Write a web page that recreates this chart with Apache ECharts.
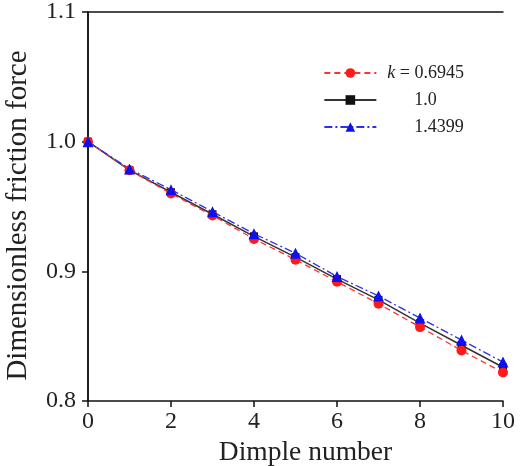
<!DOCTYPE html>
<html>
<head>
<meta charset="utf-8">
<script src="https://cdn.jsdelivr.net/npm/echarts@6/dist/echarts.min.js"></script>
<style>
  html, body { margin: 0; padding: 0; background: #fff; }
  #main { width: 521px; height: 466px; }
</style>
</head>
<body>
<div id="main"></div>
<script>
// dimple number 0..10
var dimples = [0, 1, 2, 3, 4, 5, 6, 7, 8, 9, 10];
var friction_k06945 = [1.0, 0.978, 0.960, 0.943, 0.925, 0.909, 0.892, 0.875, 0.857, 0.839, 0.822];
var friction_k10 = [1.0, 0.978, 0.961, 0.944, 0.927, 0.911, 0.894, 0.878, 0.860, 0.843, 0.826];
var friction_k14399 = [1.0, 0.979, 0.963, 0.946, 0.929, 0.914, 0.896, 0.881, 0.864, 0.847, 0.830];
var yTicks = [0.8, 0.9, 1.0, 1.1];

function pairs(ys) {
	var out = [];
	for (var i = 0; i < dimples.length; i++) {
		out.push([dimples[i], ys[i]]);
	}
	return out;
}

var serif = '"Liberation Serif", "DejaVu Serif", serif';
var myChart = echarts.init(document.getElementById('main'));

var option = {
	backgroundColor: '#fff',
	animation: false,
	textStyle: { fontFamily: serif },
	grid: { left: 88, right: 18, top: 12, bottom: 65, containLabel: false, outerBoundsMode: 'none' },
	legend: {
		right: 52,
		top: 59,
		orient: 'vertical',
		itemWidth: 52,
		itemHeight: 12,
		itemGap: 9,
		data: ['k = 0.6945', '1.0', '1.4399'],
		textStyle: {
			fontFamily: serif,
			fontSize: 18,
			color: '#222',
			rich: {
				i: { fontStyle: 'italic', fontFamily: serif, fontSize: 18, color: '#222', padding: [0, 0, 0, 6] },
				t: { fontFamily: serif, fontSize: 18, color: '#222' },
				p: { width: 33 }
			}
		},
		formatter: function (name) {
			if (name === 'k = 0.6945') {
				return '{i|k}{t| = 0.6945}';
			}
			return '{p|}{t|' + name + '}';
		}
	},
	xAxis: [{
		type: 'value',
		min: 0,
		max: 10,
		interval: 2,
		name: 'Dimple number',
		nameLocation: 'middle',
		nameGap: 37,
		nameTextStyle: { fontFamily: serif, fontSize: 27.5, color: '#222', padding: [0, 0, 0, 20] },
		axisLine: { lineStyle: { color: '#111', width: 1.5 } },
		axisTick: { inside: false, length: 6, lineStyle: { color: '#111', width: 1.5 } },
		axisLabel: { fontFamily: serif, fontSize: 24, color: '#222', margin: 9 },
		splitLine: { show: false }
	}, {
		type: 'value',
		position: 'top',
		min: 0,
		max: 10,
		axisLine: { show: true, lineStyle: { color: '#111', width: 1.5 } },
		axisTick: { show: false },
		axisLabel: { show: false },
		splitLine: { show: false }
	}],
	yAxis: [{
		type: 'value',
		min: yTicks[0],
		max: yTicks[yTicks.length - 1],
		interval: 0.1,
		name: 'Dimensionless friction force',
		nameLocation: 'middle',
		nameGap: 55,
		nameTextStyle: { fontFamily: serif, fontSize: 29, color: '#222', padding: [0, 18, 0, 0] },
		axisLine: { show: true, lineStyle: { color: '#111', width: 1.5 } },
		axisTick: { show: true, inside: false, length: 6, lineStyle: { color: '#111', width: 1.5 } },
		axisLabel: {
			fontFamily: serif, fontSize: 24, color: '#222', margin: 12,
			formatter: function (v) { return v.toFixed(1); }
		},
		splitLine: { show: false }
	}, {
		type: 'value',
		position: 'right',
		min: yTicks[0],
		max: yTicks[yTicks.length - 1],
		axisLine: { show: true, lineStyle: { color: '#111', width: 1.5 } },
		axisTick: { show: false },
		axisLabel: { show: false },
		splitLine: { show: false }
	}],
	series: [{
		name: 'k = 0.6945',
		type: 'line',
		data: pairs(friction_k06945),
		symbol: 'circle',
		symbolSize: 10,
		itemStyle: { color: '#ff1a1a' },
		lineStyle: { color: '#ff3030', width: 1.3, type: [6, 4] },
		z: 3
	}, {
		name: '1.0',
		type: 'line',
		data: pairs(friction_k10),
		symbol: 'rect',
		symbolSize: 8,
		itemStyle: { color: '#111' },
		lineStyle: { color: '#333', width: 1.5, type: 'solid' },
		z: 2
	}, {
		name: '1.4399',
		type: 'line',
		data: pairs(friction_k14399),
		symbol: 'triangle',
		symbolSize: 11,
		itemStyle: { color: '#1010ee' },
		lineStyle: { color: '#3030ee', width: 1.3, type: [8, 3, 2, 3] },
		z: 4
	}]
};

myChart.setOption(option);
</script>
</body>
</html>
